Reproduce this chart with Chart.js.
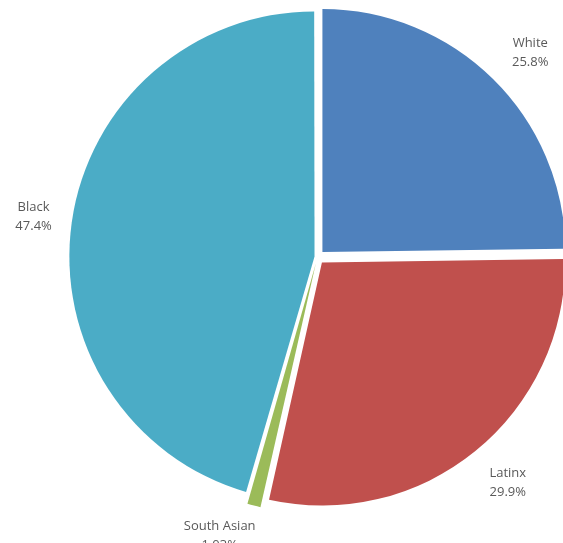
<!DOCTYPE html>
<html>
<head>
<meta charset="utf-8">
<script src="https://cdn.jsdelivr.net/npm/chart.js@4"></script>
<style>
  html, body { margin: 0; padding: 0; background: #fff; }
  .wrap { width: 563px; height: 543px; position: relative; }
</style>
</head>
<body>
<div class="wrap"><canvas class="js-pie"></canvas></div>
<script>
const groups = ["White", "Latinx", "South Asian", "Black"];
const shares = [25.8, 29.9, 1.03, 47.4];
const shareLabels = ["25.8%", "29.9%", "1.03%", "47.4%"];
const colours = ["#4F81BD", "#C0504D", "#9BBB59", "#4BACC6"];
// small angle nudge (degrees) for labels excel pushed aside
const labelNudge = [1.5, -1, 5, 0];

const outsideLabels = {
  id: "outsideLabels",
  afterDatasetsDraw(chart) {
    const ctx = chart.ctx;
    const arcs = chart.getDatasetMeta(0).data;
    ctx.save();
    ctx.font = "13px 'Open Sans', 'Noto Sans', sans-serif";
    ctx.fillStyle = "#595959";
    ctx.textAlign = "center";
    ctx.textBaseline = "middle";
    arcs.forEach((arc, i) => {
      const p = arc.getProps(["x", "y", "startAngle", "endAngle", "outerRadius"], true);
      const mid = (p.startAngle + p.endAngle) / 2 + labelNudge[i] * Math.PI / 180;
      const dist = p.outerRadius * (i === 3 ? 1.18 : 1.215);
      const lx = p.x + Math.cos(mid) * dist;
      const ly = p.y + Math.sin(mid) * dist;
      ctx.fillText(groups[i], lx, ly - 9);
      ctx.fillText(shareLabels[i], lx, ly + 10);
    });
    ctx.restore();
  },
};

const piechart = function () {
  const el = document.querySelector(".js-pie");

  new Chart(el, {
    type: "pie",
    data: {
      labels: groups,
      datasets: [
        {
          data: shares,
          backgroundColor: colours,
          borderWidth: 0,
          offset: [28, 28, 28, 12], // chart.js draws offset / 4
        },
      ],
    },
    options: {
      responsive: true,
      maintainAspectRatio: false,
      animation: false,
      radius: 243,
      layout: {
        padding: { left: 72, right: 0, top: 0, bottom: 29 },
      },
      plugins: {
        legend: { display: false },
        tooltip: { enabled: false },
      },
    },
    plugins: [outsideLabels],
  });
};

piechart();
</script>
</body>
</html>
